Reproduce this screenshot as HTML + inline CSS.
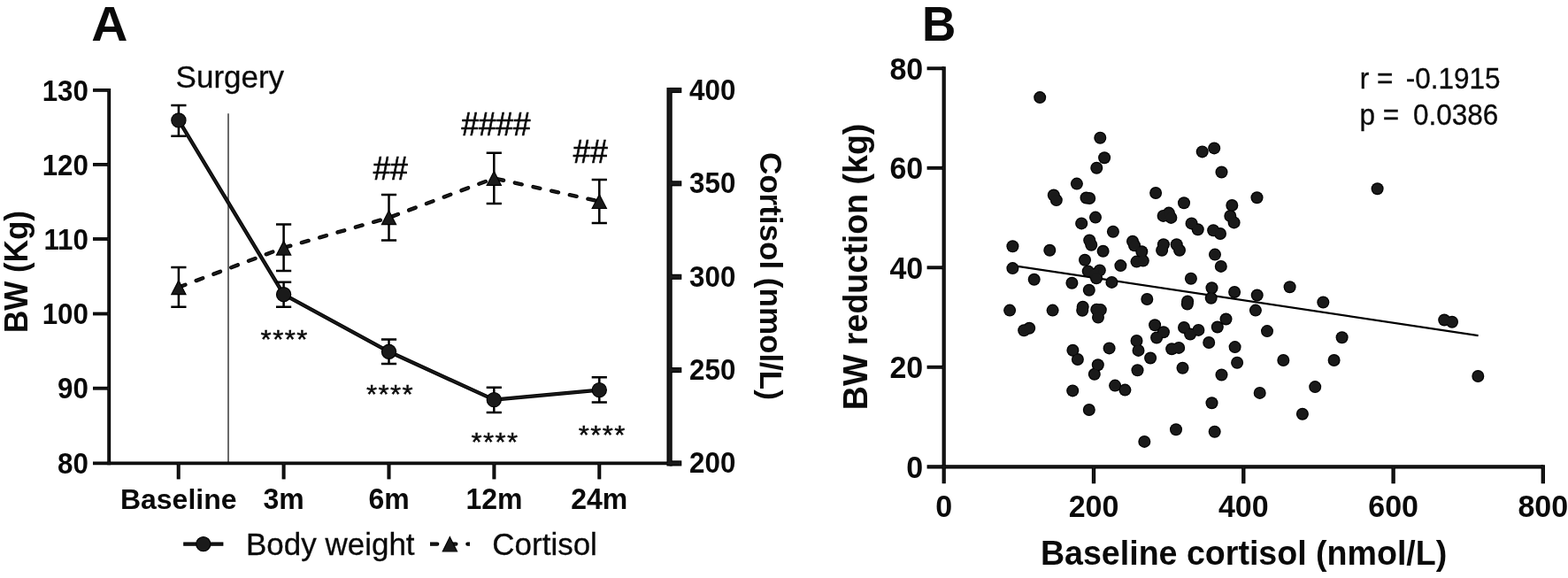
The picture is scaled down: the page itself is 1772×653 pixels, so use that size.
<!DOCTYPE html>
<html lang="en"><head><meta charset="utf-8"><title>Figure</title>
<style>html,body{margin:0;padding:0;background:#fff}svg{display:block}text{font-family:"Liberation Sans",Arial,Helvetica,sans-serif;fill:#0a0a0a}</style>
</head><body>
<svg width="1772" height="653" viewBox="0 0 1772 653">
<rect width="1772" height="653" fill="#fff"/>
<text transform="translate(123.90 45.50) scale(1.075 1.040)" font-size="53" font-weight="700" text-anchor="middle">A</text>
<text transform="translate(1042.10 45.50) scale(1.000 1.040)" font-size="53" font-weight="700">B</text>
<path d="M258 128.3 V523.4" stroke-width="1.4" stroke="#2a2a2a" fill="none"/>
<g stroke="#000" fill="none">
<path d="M123.20 100.00 L123.20 525.35" stroke-width="3.90"/>
<path d="M105.00 523.40 L756.60 523.40" stroke-width="3.90"/>
<path d="M756.60 98.95 L756.60 526.45" stroke-width="6.20"/>
<path d="M105.00 101.90 L123.20 101.90" stroke-width="3.80"/>
<path d="M105.00 185.90 L123.20 185.90" stroke-width="3.80"/>
<path d="M105.00 270.00 L123.20 270.00" stroke-width="3.80"/>
<path d="M105.00 354.50 L123.20 354.50" stroke-width="3.80"/>
<path d="M105.00 438.70 L123.20 438.70" stroke-width="3.80"/>
<path d="M756.60 102.00 L770.30 102.00" stroke-width="6.10"/>
<path d="M756.60 207.30 L770.30 207.30" stroke-width="6.10"/>
<path d="M756.60 312.80 L770.30 312.80" stroke-width="6.10"/>
<path d="M756.60 418.10 L770.30 418.10" stroke-width="6.10"/>
<path d="M756.60 523.40 L770.30 523.40" stroke-width="6.10"/>
<path d="M201.70 523.40 L201.70 541.40" stroke-width="4.00"/>
<path d="M320.60 523.40 L320.60 541.40" stroke-width="4.00"/>
<path d="M439.50 523.40 L439.50 541.40" stroke-width="4.00"/>
<path d="M558.40 523.40 L558.40 541.40" stroke-width="4.00"/>
<path d="M677.30 523.40 L677.30 541.40" stroke-width="4.00"/>
</g>
<g stroke="#1a1a1a" fill="none">
<path d="M123.20 101.20 L123.20 524.15" stroke-width="1.50"/>
<path d="M106.20 523.40 L756.60 523.40" stroke-width="1.50"/>
<path d="M756.60 100.15 L756.60 525.25" stroke-width="3.80"/>
<path d="M106.20 101.90 L123.20 101.90" stroke-width="1.40"/>
<path d="M106.20 185.90 L123.20 185.90" stroke-width="1.40"/>
<path d="M106.20 270.00 L123.20 270.00" stroke-width="1.40"/>
<path d="M106.20 354.50 L123.20 354.50" stroke-width="1.40"/>
<path d="M106.20 438.70 L123.20 438.70" stroke-width="1.40"/>
<path d="M756.60 102.00 L769.10 102.00" stroke-width="3.70"/>
<path d="M756.60 207.30 L769.10 207.30" stroke-width="3.70"/>
<path d="M756.60 312.80 L769.10 312.80" stroke-width="3.70"/>
<path d="M756.60 418.10 L769.10 418.10" stroke-width="3.70"/>
<path d="M756.60 523.40 L769.10 523.40" stroke-width="3.70"/>
<path d="M201.70 523.40 L201.70 540.20" stroke-width="1.60"/>
<path d="M320.60 523.40 L320.60 540.20" stroke-width="1.60"/>
<path d="M439.50 523.40 L439.50 540.20" stroke-width="1.60"/>
<path d="M558.40 523.40 L558.40 540.20" stroke-width="1.60"/>
<path d="M677.30 523.40 L677.30 540.20" stroke-width="1.60"/>
</g>
<text transform="translate(100.00 113.50) scale(0.980 1.040)" font-size="32" font-weight="700" text-anchor="end">130</text>
<text transform="translate(100.00 197.50) scale(0.980 1.040)" font-size="32" font-weight="700" text-anchor="end">120</text>
<text transform="translate(100.00 281.60) scale(0.980 1.040)" font-size="32" font-weight="700" text-anchor="end">110</text>
<text transform="translate(100.00 366.10) scale(0.980 1.040)" font-size="32" font-weight="700" text-anchor="end">100</text>
<text transform="translate(100.00 450.30) scale(0.980 1.040)" font-size="32" font-weight="700" text-anchor="end">90</text>
<text transform="translate(100.00 535.00) scale(0.980 1.040)" font-size="32" font-weight="700" text-anchor="end">80</text>
<text transform="translate(779.00 113.00) scale(0.980 1.040)" font-size="32" font-weight="700">400</text>
<text transform="translate(779.00 218.30) scale(0.980 1.040)" font-size="32" font-weight="700">350</text>
<text transform="translate(779.00 323.80) scale(0.980 1.040)" font-size="32" font-weight="700">300</text>
<text transform="translate(779.00 429.10) scale(0.980 1.040)" font-size="32" font-weight="700">250</text>
<text transform="translate(779.00 534.40) scale(0.980 1.040)" font-size="32" font-weight="700">200</text>
<text transform="translate(201.70 575.30)" font-size="32" font-weight="700" text-anchor="middle">Baseline</text>
<text transform="translate(320.60 575.30) scale(1.000 1.040)" font-size="32" font-weight="700" text-anchor="middle">3m</text>
<text transform="translate(439.50 575.30) scale(1.000 1.040)" font-size="32" font-weight="700" text-anchor="middle">6m</text>
<text transform="translate(558.40 575.30) scale(1.000 1.040)" font-size="32" font-weight="700" text-anchor="middle">12m</text>
<text transform="translate(677.30 575.30) scale(1.000 1.040)" font-size="32" font-weight="700" text-anchor="middle">24m</text>
<text transform="translate(30.60 307.00) rotate(-90) scale(1.000 1.030)" font-size="35" font-weight="700" text-anchor="middle">BW (Kg)</text>
<text transform="translate(858.80 311.90) rotate(90)" font-size="35" font-weight="700" text-anchor="middle">Cortisol (nmol/L)</text>
<text transform="translate(198.60 98.60) scale(1.000 1.010)" font-size="35" stroke="#0a0a0a" stroke-width="0.3">Surgery</text>
<text transform="translate(441.20 202.60) scale(1.000 1.055)" font-size="35" text-anchor="middle" stroke="#0a0a0a" stroke-width="0.7">##</text>
<text transform="translate(560.50 152.70) scale(1.000 1.055)" font-size="35" text-anchor="middle" stroke="#0a0a0a" stroke-width="0.7">####</text>
<text transform="translate(667.20 183.70) scale(1.000 1.055)" font-size="35" text-anchor="middle" stroke="#0a0a0a" stroke-width="0.7">##</text>
<text transform="translate(321.70 392.60) scale(0.890 0.820)" font-size="35" text-anchor="middle" stroke="#0a0a0a" stroke-width="0.5" letter-spacing="1.6">****</text>
<text transform="translate(441.00 455.40) scale(0.890 0.820)" font-size="35" text-anchor="middle" stroke="#0a0a0a" stroke-width="0.5" letter-spacing="1.6">****</text>
<text transform="translate(559.50 509.20) scale(0.890 0.820)" font-size="35" text-anchor="middle" stroke="#0a0a0a" stroke-width="0.5" letter-spacing="1.6">****</text>
<text transform="translate(680.80 500.90) scale(0.890 0.820)" font-size="35" text-anchor="middle" stroke="#0a0a0a" stroke-width="0.5" letter-spacing="1.6">****</text>
<g fill="none" stroke="#000">
<polyline points="201.9,135.9 320.6,332.7 439.5,397.3 558.3,451.6 677.3,440.6" stroke-width="4.3" stroke-linejoin="round"/>
<polyline points="201.9,324.5 320.6,279.9 439.5,245.9 558.3,201.4 677.3,227.5" stroke-width="4.4" stroke-dasharray="8 13.13" stroke-linecap="round" stroke-linejoin="round"/>
</g>
<g fill="none" stroke="#1a1a1a">
<polyline points="201.9,135.9 320.6,332.7 439.5,397.3 558.3,451.6 677.3,440.6" stroke-width="2.3" stroke-linejoin="round"/>
<polyline points="201.9,324.5 320.6,279.9 439.5,245.9 558.3,201.4 677.3,227.5" stroke-width="2.4" stroke-dasharray="8 13.13" stroke-linecap="round" stroke-linejoin="round"/>
</g>
<g fill="none" stroke="#000" stroke-width="2.5">
<path d="M201.9 119.0 V153.7 M193.3 119.0 H210.5 M193.3 153.7 H210.5"/>
<path d="M320.6 318.7 V346.8 M312.0 318.7 H329.2 M312.0 346.8 H329.2"/>
<path d="M439.5 383.5 V410.9 M430.9 383.5 H448.1 M430.9 410.9 H448.1"/>
<path d="M558.3 437.8 V465.9 M549.7 437.8 H566.9 M549.7 465.9 H566.9"/>
<path d="M677.3 426.2 V454.6 M668.7 426.2 H685.9 M668.7 454.6 H685.9"/>
<path d="M201.9 302.1 V346.8 M193.3 302.1 H210.5 M193.3 346.8 H210.5"/>
<path d="M320.6 253.6 V306.1 M312.0 253.6 H329.2 M312.0 306.1 H329.2"/>
<path d="M439.5 220.1 V271.6 M430.9 220.1 H448.1 M430.9 271.6 H448.1"/>
<path d="M558.3 172.7 V230.1 M549.7 172.7 H566.9 M549.7 230.1 H566.9"/>
<path d="M677.3 203.0 V252.0 M668.7 203.0 H685.9 M668.7 252.0 H685.9"/>
</g>
<g fill="#1a1a1a" stroke="#000" stroke-width="1.2">
<circle cx="201.9" cy="135.9" r="8.10"/>
<circle cx="320.6" cy="332.7" r="8.10"/>
<circle cx="439.5" cy="397.3" r="8.10"/>
<circle cx="558.3" cy="451.6" r="8.10"/>
<circle cx="677.3" cy="440.6" r="8.10"/>
<path d="M201.9 316.9 L210.0 332.7 L193.8 332.7 Z"/>
<path d="M320.6 272.3 L328.7 288.1 L312.5 288.1 Z"/>
<path d="M439.5 237.9 L447.6 253.7 L431.4 253.7 Z"/>
<path d="M558.3 193.6 L566.4 209.4 L550.2 209.4 Z"/>
<path d="M677.3 219.7 L685.4 235.5 L669.2 235.5 Z"/>
</g>
<clipPath id="lc"><rect x="485.9" y="600" width="45" height="30"/></clipPath>
<g stroke="#000" fill="none">
<path d="M207.20 614.60 L252.40 614.60" stroke-width="4.30"/>
</g>
<g stroke="#1a1a1a" fill="none">
<path d="M208.40 614.60 L251.20 614.60" stroke-width="1.90"/>
</g>
<g fill="none" clip-path="url(#lc)">
<path d="M486.15 614.6 H540" stroke="#000" stroke-width="4.4" stroke-dasharray="8 13.13" stroke-linecap="round" stroke-linejoin="round"/>
<path d="M487.15 614.6 H540" stroke="#1a1a1a" stroke-width="2.4" stroke-dasharray="7 14.13" stroke-linecap="round"/>
</g>
<g fill="#1a1a1a" stroke="#000" stroke-width="1.2">
<circle cx="229.8" cy="614.6" r="8.10"/>
<path d="M508.4 606.7 L516.5 622.8 L500.3 622.8 Z"/>
</g>
<text transform="translate(278.00 626.60) scale(1.000 1.010)" font-size="35" stroke="#0a0a0a" stroke-width="0.3">Body weight</text>
<text transform="translate(556.30 626.60) scale(1.000 1.010)" font-size="35" stroke="#0a0a0a" stroke-width="0.3">Cortisol</text>
<g stroke="#000" fill="none">
<path d="M1066.70 75.35 L1066.70 546.30" stroke-width="4.20"/>
<path d="M1047.60 527.40 L1743.80 527.40" stroke-width="4.30"/>
<path d="M1047.60 77.30 L1066.70 77.30" stroke-width="3.90"/>
<path d="M1047.60 189.80 L1066.70 189.80" stroke-width="3.90"/>
<path d="M1047.60 302.30 L1066.70 302.30" stroke-width="3.90"/>
<path d="M1047.60 414.80 L1066.70 414.80" stroke-width="3.90"/>
<path d="M1236.00 527.40 L1236.00 546.30" stroke-width="4.30"/>
<path d="M1405.30 527.40 L1405.30 546.30" stroke-width="4.30"/>
<path d="M1574.60 527.40 L1574.60 546.30" stroke-width="4.30"/>
<path d="M1743.80 525.25 L1743.80 546.30" stroke-width="4.30"/>
</g>
<g stroke="#1a1a1a" fill="none">
<path d="M1066.70 76.55 L1066.70 545.10" stroke-width="1.80"/>
<path d="M1048.80 527.40 L1743.80 527.40" stroke-width="1.90"/>
<path d="M1048.80 77.30 L1066.70 77.30" stroke-width="1.50"/>
<path d="M1048.80 189.80 L1066.70 189.80" stroke-width="1.50"/>
<path d="M1048.80 302.30 L1066.70 302.30" stroke-width="1.50"/>
<path d="M1048.80 414.80 L1066.70 414.80" stroke-width="1.50"/>
<path d="M1236.00 527.40 L1236.00 545.10" stroke-width="1.90"/>
<path d="M1405.30 527.40 L1405.30 545.10" stroke-width="1.90"/>
<path d="M1574.60 527.40 L1574.60 545.10" stroke-width="1.90"/>
<path d="M1743.80 526.45 L1743.80 545.10" stroke-width="1.90"/>
</g>
<path d="M1150.1 300.9 L1670.6 379.1" stroke="#000" stroke-width="2.2" fill="none"/>
<text transform="translate(1043.20 89.90) scale(0.985 1.040)" font-size="34.5" font-weight="700" text-anchor="end">80</text>
<text transform="translate(1043.20 202.40) scale(0.985 1.040)" font-size="34.5" font-weight="700" text-anchor="end">60</text>
<text transform="translate(1043.20 314.90) scale(0.985 1.040)" font-size="34.5" font-weight="700" text-anchor="end">40</text>
<text transform="translate(1043.20 427.40) scale(0.985 1.040)" font-size="34.5" font-weight="700" text-anchor="end">20</text>
<text transform="translate(1043.20 540.00) scale(0.985 1.040)" font-size="34.5" font-weight="700" text-anchor="end">0</text>
<text transform="translate(1066.70 583.80) scale(0.985 1.040)" font-size="34.5" font-weight="700" text-anchor="middle">0</text>
<text transform="translate(1236.00 583.80) scale(0.985 1.040)" font-size="34.5" font-weight="700" text-anchor="middle">200</text>
<text transform="translate(1405.30 583.80) scale(0.985 1.040)" font-size="34.5" font-weight="700" text-anchor="middle">400</text>
<text transform="translate(1574.60 583.80) scale(0.985 1.040)" font-size="34.5" font-weight="700" text-anchor="middle">600</text>
<text transform="translate(1743.80 583.80) scale(0.985 1.040)" font-size="34.5" font-weight="700" text-anchor="middle">800</text>
<text transform="translate(1405.60 638.30) scale(1.000 1.010)" font-size="37.6" font-weight="700" text-anchor="middle">Baseline cortisol (nmol/L)</text>
<text transform="translate(980.40 301.40) rotate(-90) scale(1.000 1.010)" font-size="37.6" font-weight="700" text-anchor="middle">BW reduction (kg)</text>
<text transform="translate(1536.80 100.40) scale(1.000 1.040)" font-size="31.5" stroke="#0a0a0a" stroke-width="0.3">r =</text>
<text transform="translate(1588.80 100.40) scale(1.000 1.040)" font-size="31.5" stroke="#0a0a0a" stroke-width="0.3">-0.1915</text>
<text transform="translate(1536.40 141.40) scale(1.000 1.040)" font-size="31.5" stroke="#0a0a0a" stroke-width="0.3">p =</text>
<text transform="translate(1597.00 141.40) scale(1.000 1.040)" font-size="31.5" stroke="#0a0a0a" stroke-width="0.3">0.0386</text>
<g fill="#000">
<circle cx="1175.2" cy="110.1" r="7"/>
<circle cx="1243.3" cy="155.8" r="7"/>
<circle cx="1248.1" cy="178.2" r="7"/>
<circle cx="1239.3" cy="189.7" r="7"/>
<circle cx="1216.9" cy="207.6" r="7"/>
<circle cx="1190.8" cy="220.5" r="7"/>
<circle cx="1193.8" cy="226.1" r="7"/>
<circle cx="1227.5" cy="223.5" r="7"/>
<circle cx="1231.2" cy="224.0" r="7"/>
<circle cx="1306.1" cy="218.0" r="7"/>
<circle cx="1338.0" cy="229.3" r="7"/>
<circle cx="1238.0" cy="245.6" r="7"/>
<circle cx="1222.2" cy="252.4" r="7"/>
<circle cx="1314.6" cy="243.9" r="7"/>
<circle cx="1320.9" cy="240.6" r="7"/>
<circle cx="1323.4" cy="245.9" r="7"/>
<circle cx="1257.9" cy="261.7" r="7"/>
<circle cx="1231.2" cy="271.5" r="7"/>
<circle cx="1233.3" cy="276.8" r="7"/>
<circle cx="1246.6" cy="283.8" r="7"/>
<circle cx="1280.0" cy="272.7" r="7"/>
<circle cx="1282.0" cy="277.3" r="7"/>
<circle cx="1290.3" cy="284.3" r="7"/>
<circle cx="1314.9" cy="276.3" r="7"/>
<circle cx="1313.1" cy="282.8" r="7"/>
<circle cx="1329.7" cy="276.3" r="7"/>
<circle cx="1333.0" cy="282.8" r="7"/>
<circle cx="1144.4" cy="278.3" r="7"/>
<circle cx="1186.3" cy="282.8" r="7"/>
<circle cx="1226.0" cy="293.8" r="7"/>
<circle cx="1284.5" cy="295.6" r="7"/>
<circle cx="1291.8" cy="294.6" r="7"/>
<circle cx="1266.4" cy="300.1" r="7"/>
<circle cx="1144.4" cy="303.1" r="7"/>
<circle cx="1229.7" cy="306.4" r="7"/>
<circle cx="1242.8" cy="305.4" r="7"/>
<circle cx="1236.8" cy="309.7" r="7"/>
<circle cx="1239.0" cy="314.2" r="7"/>
<circle cx="1168.7" cy="315.7" r="7"/>
<circle cx="1211.4" cy="319.7" r="7"/>
<circle cx="1256.4" cy="318.9" r="7"/>
<circle cx="1230.8" cy="327.7" r="7"/>
<circle cx="1296.3" cy="338.0" r="7"/>
<circle cx="1141.1" cy="350.6" r="7"/>
<circle cx="1189.6" cy="350.6" r="7"/>
<circle cx="1223.7" cy="346.8" r="7"/>
<circle cx="1223.2" cy="350.8" r="7"/>
<circle cx="1239.3" cy="349.8" r="7"/>
<circle cx="1243.8" cy="350.1" r="7"/>
<circle cx="1241.0" cy="358.6" r="7"/>
<circle cx="1157.2" cy="373.3" r="7"/>
<circle cx="1163.2" cy="370.8" r="7"/>
<circle cx="1305.1" cy="367.3" r="7"/>
<circle cx="1314.9" cy="375.2" r="7"/>
<circle cx="1307.1" cy="381.5" r="7"/>
<circle cx="1284.5" cy="385.0" r="7"/>
<circle cx="1338.0" cy="370.0" r="7"/>
<circle cx="1286.5" cy="395.9" r="7"/>
<circle cx="1324.2" cy="394.2" r="7"/>
<circle cx="1332.2" cy="392.9" r="7"/>
<circle cx="1212.4" cy="395.7" r="7"/>
<circle cx="1217.9" cy="406.0" r="7"/>
<circle cx="1253.6" cy="393.4" r="7"/>
<circle cx="1300.1" cy="404.5" r="7"/>
<circle cx="1240.8" cy="412.2" r="7"/>
<circle cx="1236.8" cy="422.8" r="7"/>
<circle cx="1285.5" cy="418.3" r="7"/>
<circle cx="1336.5" cy="415.8" r="7"/>
<circle cx="1260.1" cy="435.6" r="7"/>
<circle cx="1271.4" cy="440.6" r="7"/>
<circle cx="1212.2" cy="441.4" r="7"/>
<circle cx="1230.8" cy="463.0" r="7"/>
<circle cx="1329.0" cy="485.3" r="7"/>
<circle cx="1293.3" cy="498.9" r="7"/>
<circle cx="1358.7" cy="171.4" r="7"/>
<circle cx="1372.2" cy="167.4" r="7"/>
<circle cx="1380.5" cy="194.5" r="7"/>
<circle cx="1420.5" cy="223.3" r="7"/>
<circle cx="1392.3" cy="232.0" r="7"/>
<circle cx="1390.3" cy="244.0" r="7"/>
<circle cx="1394.6" cy="251.4" r="7"/>
<circle cx="1346.6" cy="252.4" r="7"/>
<circle cx="1353.7" cy="259.2" r="7"/>
<circle cx="1371.2" cy="260.2" r="7"/>
<circle cx="1379.0" cy="264.0" r="7"/>
<circle cx="1373.0" cy="287.6" r="7"/>
<circle cx="1379.8" cy="300.9" r="7"/>
<circle cx="1345.9" cy="314.7" r="7"/>
<circle cx="1369.5" cy="325.2" r="7"/>
<circle cx="1368.7" cy="336.8" r="7"/>
<circle cx="1395.1" cy="330.0" r="7"/>
<circle cx="1420.7" cy="333.5" r="7"/>
<circle cx="1457.6" cy="324.2" r="7"/>
<circle cx="1495.3" cy="341.5" r="7"/>
<circle cx="1342.1" cy="340.5" r="7"/>
<circle cx="1341.8" cy="343.6" r="7"/>
<circle cx="1418.9" cy="350.6" r="7"/>
<circle cx="1385.5" cy="360.5" r="7"/>
<circle cx="1375.8" cy="369.5" r="7"/>
<circle cx="1354.4" cy="372.9" r="7"/>
<circle cx="1345.1" cy="377.6" r="7"/>
<circle cx="1432.0" cy="374.1" r="7"/>
<circle cx="1516.6" cy="381.3" r="7"/>
<circle cx="1366.2" cy="387.0" r="7"/>
<circle cx="1395.6" cy="392.1" r="7"/>
<circle cx="1398.1" cy="409.7" r="7"/>
<circle cx="1450.3" cy="407.0" r="7"/>
<circle cx="1507.6" cy="407.0" r="7"/>
<circle cx="1380.5" cy="423.5" r="7"/>
<circle cx="1486.2" cy="437.1" r="7"/>
<circle cx="1423.7" cy="443.9" r="7"/>
<circle cx="1369.5" cy="455.2" r="7"/>
<circle cx="1471.9" cy="467.7" r="7"/>
<circle cx="1372.7" cy="487.8" r="7"/>
<circle cx="1556.6" cy="213.2" r="7"/>
<circle cx="1632.2" cy="361.5" r="7"/>
<circle cx="1641.0" cy="363.7" r="7"/>
<circle cx="1670.3" cy="425.0" r="7"/>
</g>
<g fill="#1a1a1a">
<circle cx="1175.2" cy="110.1" r="5.8"/>
<circle cx="1243.3" cy="155.8" r="5.8"/>
<circle cx="1248.1" cy="178.2" r="5.8"/>
<circle cx="1239.3" cy="189.7" r="5.8"/>
<circle cx="1216.9" cy="207.6" r="5.8"/>
<circle cx="1190.8" cy="220.5" r="5.8"/>
<circle cx="1193.8" cy="226.1" r="5.8"/>
<circle cx="1227.5" cy="223.5" r="5.8"/>
<circle cx="1231.2" cy="224.0" r="5.8"/>
<circle cx="1306.1" cy="218.0" r="5.8"/>
<circle cx="1338.0" cy="229.3" r="5.8"/>
<circle cx="1238.0" cy="245.6" r="5.8"/>
<circle cx="1222.2" cy="252.4" r="5.8"/>
<circle cx="1314.6" cy="243.9" r="5.8"/>
<circle cx="1320.9" cy="240.6" r="5.8"/>
<circle cx="1323.4" cy="245.9" r="5.8"/>
<circle cx="1257.9" cy="261.7" r="5.8"/>
<circle cx="1231.2" cy="271.5" r="5.8"/>
<circle cx="1233.3" cy="276.8" r="5.8"/>
<circle cx="1246.6" cy="283.8" r="5.8"/>
<circle cx="1280.0" cy="272.7" r="5.8"/>
<circle cx="1282.0" cy="277.3" r="5.8"/>
<circle cx="1290.3" cy="284.3" r="5.8"/>
<circle cx="1314.9" cy="276.3" r="5.8"/>
<circle cx="1313.1" cy="282.8" r="5.8"/>
<circle cx="1329.7" cy="276.3" r="5.8"/>
<circle cx="1333.0" cy="282.8" r="5.8"/>
<circle cx="1144.4" cy="278.3" r="5.8"/>
<circle cx="1186.3" cy="282.8" r="5.8"/>
<circle cx="1226.0" cy="293.8" r="5.8"/>
<circle cx="1284.5" cy="295.6" r="5.8"/>
<circle cx="1291.8" cy="294.6" r="5.8"/>
<circle cx="1266.4" cy="300.1" r="5.8"/>
<circle cx="1144.4" cy="303.1" r="5.8"/>
<circle cx="1229.7" cy="306.4" r="5.8"/>
<circle cx="1242.8" cy="305.4" r="5.8"/>
<circle cx="1236.8" cy="309.7" r="5.8"/>
<circle cx="1239.0" cy="314.2" r="5.8"/>
<circle cx="1168.7" cy="315.7" r="5.8"/>
<circle cx="1211.4" cy="319.7" r="5.8"/>
<circle cx="1256.4" cy="318.9" r="5.8"/>
<circle cx="1230.8" cy="327.7" r="5.8"/>
<circle cx="1296.3" cy="338.0" r="5.8"/>
<circle cx="1141.1" cy="350.6" r="5.8"/>
<circle cx="1189.6" cy="350.6" r="5.8"/>
<circle cx="1223.7" cy="346.8" r="5.8"/>
<circle cx="1223.2" cy="350.8" r="5.8"/>
<circle cx="1239.3" cy="349.8" r="5.8"/>
<circle cx="1243.8" cy="350.1" r="5.8"/>
<circle cx="1241.0" cy="358.6" r="5.8"/>
<circle cx="1157.2" cy="373.3" r="5.8"/>
<circle cx="1163.2" cy="370.8" r="5.8"/>
<circle cx="1305.1" cy="367.3" r="5.8"/>
<circle cx="1314.9" cy="375.2" r="5.8"/>
<circle cx="1307.1" cy="381.5" r="5.8"/>
<circle cx="1284.5" cy="385.0" r="5.8"/>
<circle cx="1338.0" cy="370.0" r="5.8"/>
<circle cx="1286.5" cy="395.9" r="5.8"/>
<circle cx="1324.2" cy="394.2" r="5.8"/>
<circle cx="1332.2" cy="392.9" r="5.8"/>
<circle cx="1212.4" cy="395.7" r="5.8"/>
<circle cx="1217.9" cy="406.0" r="5.8"/>
<circle cx="1253.6" cy="393.4" r="5.8"/>
<circle cx="1300.1" cy="404.5" r="5.8"/>
<circle cx="1240.8" cy="412.2" r="5.8"/>
<circle cx="1236.8" cy="422.8" r="5.8"/>
<circle cx="1285.5" cy="418.3" r="5.8"/>
<circle cx="1336.5" cy="415.8" r="5.8"/>
<circle cx="1260.1" cy="435.6" r="5.8"/>
<circle cx="1271.4" cy="440.6" r="5.8"/>
<circle cx="1212.2" cy="441.4" r="5.8"/>
<circle cx="1230.8" cy="463.0" r="5.8"/>
<circle cx="1329.0" cy="485.3" r="5.8"/>
<circle cx="1293.3" cy="498.9" r="5.8"/>
<circle cx="1358.7" cy="171.4" r="5.8"/>
<circle cx="1372.2" cy="167.4" r="5.8"/>
<circle cx="1380.5" cy="194.5" r="5.8"/>
<circle cx="1420.5" cy="223.3" r="5.8"/>
<circle cx="1392.3" cy="232.0" r="5.8"/>
<circle cx="1390.3" cy="244.0" r="5.8"/>
<circle cx="1394.6" cy="251.4" r="5.8"/>
<circle cx="1346.6" cy="252.4" r="5.8"/>
<circle cx="1353.7" cy="259.2" r="5.8"/>
<circle cx="1371.2" cy="260.2" r="5.8"/>
<circle cx="1379.0" cy="264.0" r="5.8"/>
<circle cx="1373.0" cy="287.6" r="5.8"/>
<circle cx="1379.8" cy="300.9" r="5.8"/>
<circle cx="1345.9" cy="314.7" r="5.8"/>
<circle cx="1369.5" cy="325.2" r="5.8"/>
<circle cx="1368.7" cy="336.8" r="5.8"/>
<circle cx="1395.1" cy="330.0" r="5.8"/>
<circle cx="1420.7" cy="333.5" r="5.8"/>
<circle cx="1457.6" cy="324.2" r="5.8"/>
<circle cx="1495.3" cy="341.5" r="5.8"/>
<circle cx="1342.1" cy="340.5" r="5.8"/>
<circle cx="1341.8" cy="343.6" r="5.8"/>
<circle cx="1418.9" cy="350.6" r="5.8"/>
<circle cx="1385.5" cy="360.5" r="5.8"/>
<circle cx="1375.8" cy="369.5" r="5.8"/>
<circle cx="1354.4" cy="372.9" r="5.8"/>
<circle cx="1345.1" cy="377.6" r="5.8"/>
<circle cx="1432.0" cy="374.1" r="5.8"/>
<circle cx="1516.6" cy="381.3" r="5.8"/>
<circle cx="1366.2" cy="387.0" r="5.8"/>
<circle cx="1395.6" cy="392.1" r="5.8"/>
<circle cx="1398.1" cy="409.7" r="5.8"/>
<circle cx="1450.3" cy="407.0" r="5.8"/>
<circle cx="1507.6" cy="407.0" r="5.8"/>
<circle cx="1380.5" cy="423.5" r="5.8"/>
<circle cx="1486.2" cy="437.1" r="5.8"/>
<circle cx="1423.7" cy="443.9" r="5.8"/>
<circle cx="1369.5" cy="455.2" r="5.8"/>
<circle cx="1471.9" cy="467.7" r="5.8"/>
<circle cx="1372.7" cy="487.8" r="5.8"/>
<circle cx="1556.6" cy="213.2" r="5.8"/>
<circle cx="1632.2" cy="361.5" r="5.8"/>
<circle cx="1641.0" cy="363.7" r="5.8"/>
<circle cx="1670.3" cy="425.0" r="5.8"/>
</g>
</svg>
</body></html>
